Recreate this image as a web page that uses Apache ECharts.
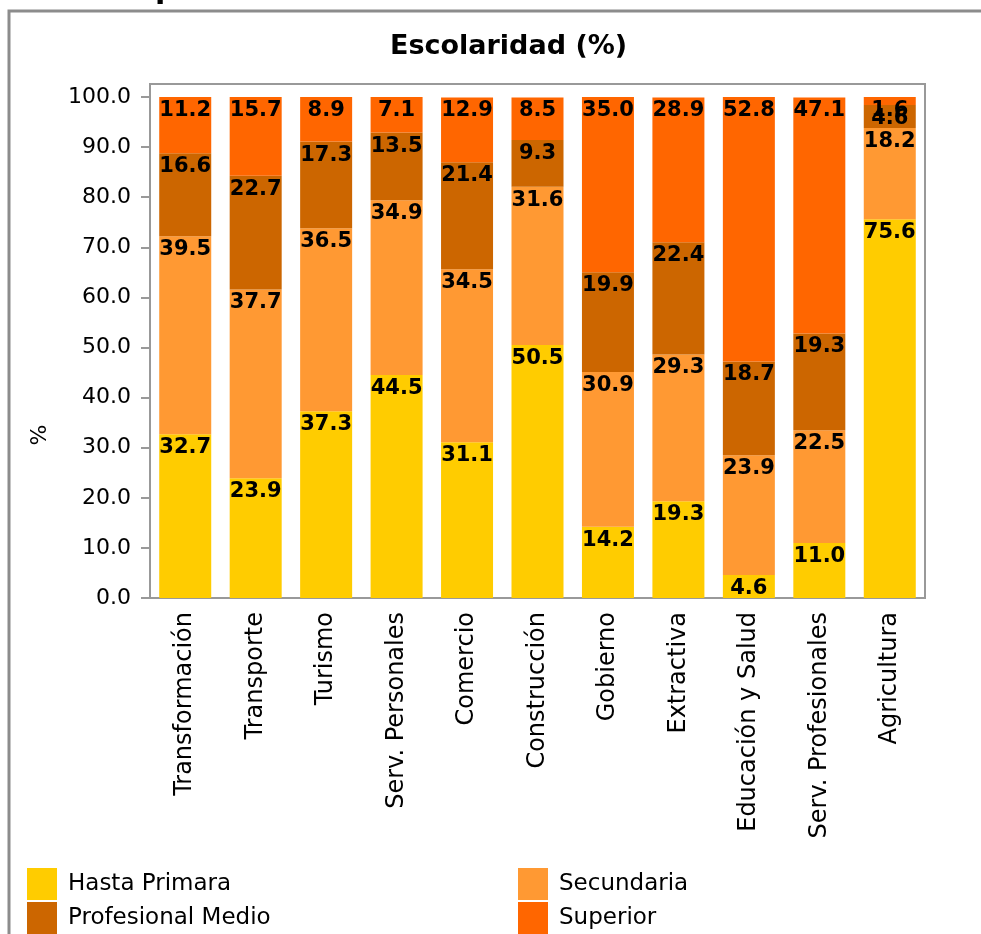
<!DOCTYPE html>
<html>
<head>
<meta charset="utf-8">
<title>Escolaridad (%)</title>
<script src="https://cdn.jsdelivr.net/npm/echarts@6/dist/echarts.min.js"></script>
<style>
html, body { margin: 0; padding: 0; background: #fff; }
#chart { width: 981px; height: 934px; }
</style>
</head>
<body>
<div id="chart"></div>
<script>
// datos
var sectores = ['Transformación', 'Transporte', 'Turismo', 'Serv. Personales', 'Comercio',
  'Construcción', 'Gobierno', 'Extractiva', 'Educación y Salud', 'Serv. Profesionales', 'Agricultura'];
var hastaPrimaria = [32.7, 23.9, 37.3, 44.5, 31.1, 50.5, 14.2, 19.3, 4.6, 11.0, 75.6];
var secundaria = [39.5, 37.7, 36.5, 34.9, 34.5, 31.6, 30.9, 29.3, 23.9, 22.5, 18.2];
var profesionalMedio = [16.6, 22.7, 17.3, 13.5, 21.4, 9.3, 19.9, 22.4, 18.7, 19.3, 4.6];
var superior = [11.2, 15.7, 8.9, 7.1, 12.9, 8.5, 35.0, 28.9, 52.8, 47.1, 1.6];
var ticksY = [0, 10, 20, 30, 40, 50, 60, 70, 80, 90, 100];

var font = 'DejaVu Sans';
var gris = '#999999';

var chart = echarts.init(document.getElementById('chart'));

function serie(nombre, datos, color) {
  return {
    name: nombre,
    type: 'bar',
    stack: 'total',
    barWidth: 52,
    data: datos,
    itemStyle: { color: color, borderWidth: 0 },
    label: {
      show: true,
      position: 'insideTop',
      distance: 3,
      color: '#000',
      fontFamily: font,
      fontWeight: 'bold',
      fontSize: 21,
      formatter: function (p) { return p.value.toFixed(1); }
    }
  };
}

// una leyenda por elemento, dos columnas
function leyenda(nombre, x, y) {
  return {
    left: x,
    top: y,
    itemWidth: 30,
    itemHeight: 32,
    icon: 'rect',
    data: [nombre],
    textStyle: { fontFamily: font, fontSize: 23, color: '#000', padding: [0, 0, 0, 6] }
  };
}

chart.setOption({
  animation: false,
  backgroundColor: '#fff',
  color: ['#FFCC00', '#FF9933', '#CC6600', '#FF6600'],
  title: {
    text: 'Escolaridad (%)',
    left: 385,
    top: 28,
    textStyle: { fontFamily: font, fontWeight: 'bold', fontSize: 27, color: '#000' }
  },
  legend: [
    leyenda('Hasta Primara', 22, 863),
    leyenda('Profesional Medio', 22, 897),
    leyenda('Secundaria', 513, 863),
    leyenda('Superior', 513, 897)
  ],
  grid: {
    left: 150,
    right: 56,
    top: 84,
    bottom: 336,
    show: true,
    borderColor: gris,
    borderWidth: 2
  },
  xAxis: {
    type: 'category',
    data: sectores,
    axisLine: { lineStyle: { color: gris, width: 2 } },
    axisTick: { alignWithLabel: true, length: 10, lineStyle: { color: gris, width: 2 } },
    axisLabel: {
      rotate: 90,
      margin: 14,
      interval: 0,
      fontFamily: font,
      fontSize: 24,
      color: '#000'
    }
  },
  yAxis: {
    type: 'value',
    min: 0,
    max: 102.6,
    splitLine: { show: false },
    axisLine: { show: true, lineStyle: { color: gris, width: 2 } },
    axisTick: { show: true, length: 9, customValues: ticksY, lineStyle: { color: gris, width: 2 } },
    axisLabel: {
      customValues: ticksY,
      margin: 19,
      fontFamily: font,
      fontSize: 22,
      color: '#000',
      formatter: function (v) { return v.toFixed(1); }
    }
  },
  graphic: [
    {
      type: 'rect',
      shape: { x: 9, y: 11, width: 1100, height: 1100 },
      style: { fill: null, stroke: '#8c8c8c', lineWidth: 3 },
      silent: true
    },
    {
      type: 'text',
      x: 40,
      y: 435,
      rotation: Math.PI / 2,
      style: { text: '%', fontFamily: font, fontSize: 22, fill: '#000', align: 'center', verticalAlign: 'middle' }
    },
    {
      type: 'text',
      x: 155,
      y: -25,
      style: { text: 'p', fontFamily: font, fontWeight: 'bold', fontSize: 30, fill: '#000', align: 'left', verticalAlign: 'top' }
    }
  ],
  series: [
    serie('Hasta Primara', hastaPrimaria, '#FFCC00'),
    serie('Secundaria', secundaria, '#FF9933'),
    serie('Profesional Medio', profesionalMedio, '#CC6600'),
    serie('Superior', superior, '#FF6600')
  ]
});
</script>
</body>
</html>
